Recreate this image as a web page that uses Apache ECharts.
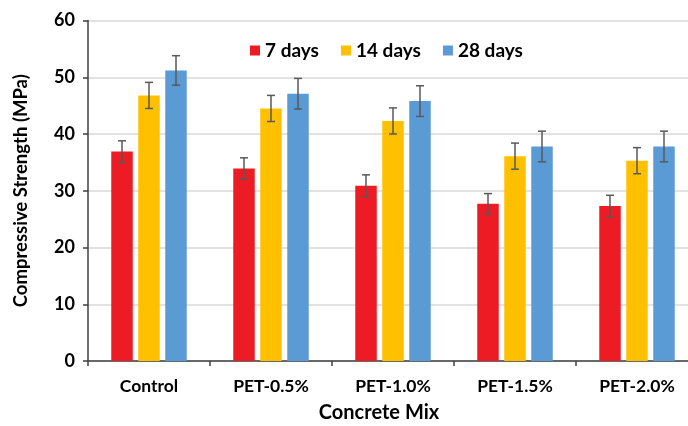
<!DOCTYPE html>
<html>
<head>
<meta charset="utf-8">
<script src="https://cdn.jsdelivr.net/npm/echarts@6/dist/echarts.min.js"></script>
<style>
  html, body { margin: 0; padding: 0; background: #fff; }
  #chart { width: 688px; height: 426px; }
</style>
</head>
<body>
<div id="chart"></div>
<script>
var categories = ['Control', 'PET-0.5%', 'PET-1.0%', 'PET-1.5%', 'PET-2.0%'];
var seriesNames = ['7 days', '14 days', '28 days'];
var days7 = [36.9, 33.9, 30.9, 27.7, 27.3];
var days14 = [46.8, 44.5, 42.3, 36.1, 35.3];
var days28 = [51.2, 47.1, 45.8, 37.8, 37.8];
var err7 = [1.9, 1.9, 1.9, 1.8, 1.9];
var err14 = [2.3, 2.3, 2.3, 2.3, 2.3];
var err28 = [2.6, 2.7, 2.7, 2.7, 2.7];
var yTicks = [0, 10, 20, 30, 40, 50, 60];

var colors = ['#ED1C24', '#FFC000', '#5B9BD5'];
var values = [days7, days14, days28];
var errors = [err7, err14, err28];

var font = 'Lato, "Open Sans", sans-serif';
var barW = 21.5;
var gapW = 5.5;

var chart = echarts.init(document.getElementById('chart'));

// error bars drawn on top of each bar
function errSeries(idx) {
  var data = values[idx].map(function (v, i) { return [i, v, errors[idx][i]]; });
  return {
    type: 'custom',
    z: 10,
    silent: true,
    data: data,
    renderItem: function (params, api) {
      var off = (idx - 1) * (barW + gapW);
      var hi = api.coord([api.value(0), api.value(1) + api.value(2)]);
      var lo = api.coord([api.value(0), api.value(1) - api.value(2)]);
      var x = hi[0] + off;
      var cap = 4;
      var st = { stroke: '#595959', lineWidth: 1.5 };
      return {
        type: 'group',
        children: [
          { type: 'line', shape: { x1: x, y1: hi[1], x2: x, y2: lo[1] }, style: st },
          { type: 'line', shape: { x1: x - cap, y1: hi[1], x2: x + cap, y2: hi[1] }, style: st },
          { type: 'line', shape: { x1: x - cap, y1: lo[1], x2: x + cap, y2: lo[1] }, style: st }
        ]
      };
    }
  };
}

var series = [];
seriesNames.forEach(function (name, i) {
  series.push({
    name: name,
    type: 'bar',
    data: values[i],
    barWidth: barW,
    barGap: (gapW / barW * 100) + '%',
    itemStyle: { color: colors[i] }
  });
});
seriesNames.forEach(function (name, i) {
  series.push(errSeries(i));
});

var option = {
  animation: false,
  textStyle: { fontFamily: font },
  legend: {
    data: seriesNames,
    left: 245,
    top: 36,
    icon: 'rect',
    itemWidth: 10,
    itemHeight: 10,
    itemGap: 22,
    textStyle: { fontSize: 19, fontWeight: 'bold', color: '#000', fontFamily: font }
  },
  // plot runs past the right edge of the picture, as in the reference
  grid: { left: 88, width: 610, top: 20.5, bottom: 65, outerBoundsMode: 'none' },
  xAxis: {
    type: 'category',
    data: categories,
    name: 'Concrete Mix',
    nameLocation: 'middle',
    nameGap: 42,
    nameTextStyle: { fontSize: 20, fontWeight: 'bold', color: '#000', fontFamily: font, padding: [0, 0, 0, -28] },
    axisLine: { lineStyle: { color: '#404040', width: 1.5 } },
    axisTick: { show: true, length: 5, alignWithLabel: false, lineStyle: { color: '#404040', width: 1.5 } },
    axisLabel: { fontSize: 17.5, fontWeight: 'bold', color: '#000', margin: 16, fontFamily: font }
  },
  yAxis: {
    type: 'value',
    min: yTicks[0],
    max: yTicks[yTicks.length - 1],
    interval: 10,
    name: 'Compressive Strength (MPa)',
    nameLocation: 'middle',
    nameGap: 57,
    nameTextStyle: { fontSize: 18.5, fontWeight: 'bold', color: '#000', fontFamily: font },
    axisLine: { show: true, lineStyle: { color: '#404040', width: 1.5 } },
    axisTick: { show: true, length: 5, lineStyle: { color: '#404040', width: 1.5 } },
    axisLabel: { fontSize: 18, fontWeight: 'bold', color: '#000', margin: 13, fontFamily: font },
    splitLine: { lineStyle: { color: '#D9D9D9', width: 1.5 } }
  },
  series: series
};
chart.setOption(option);
</script>
</body>
</html>
